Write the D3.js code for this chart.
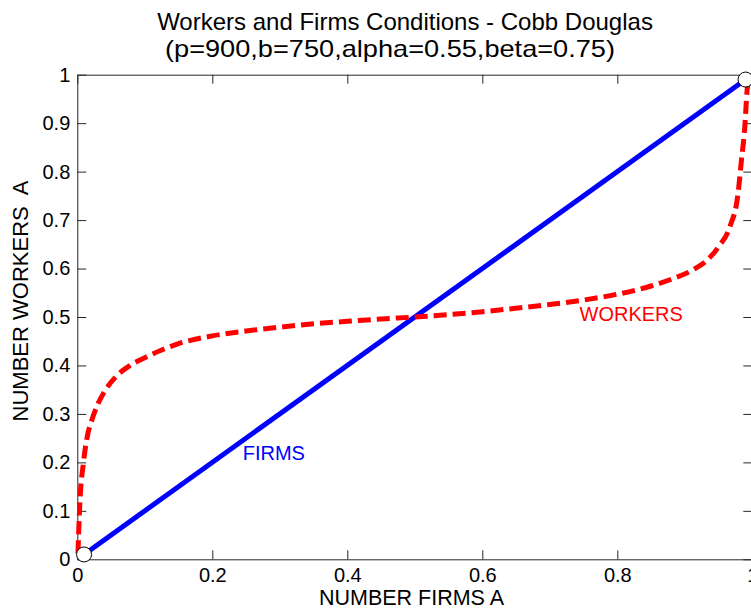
<!DOCTYPE html>
<html>
<head>
<meta charset="utf-8">
<script src="https://cdn.jsdelivr.net/npm/d3@7"></script>
<style>
    body { margin: 0; background: #fff; }
    svg { display: block; font-family: "Liberation Sans", Arial, sans-serif; }
</style>
</head>
<body>
<div id="chart"></div>
<script>
// firms condition (straight line) and workers condition (dashed curve)
const firmsX = [0.01, 0.99];
const firmsY = [0.01, 0.99];

const workersX = [0.001, 0.002, 0.004, 0.009, 0.015, 0.021, 0.031, 0.042, 0.058, 0.078, 0.1,
    0.125, 0.15, 0.2, 0.25, 0.3, 0.35, 0.4, 0.45, 0.5, 0.55, 0.6, 0.65, 0.7, 0.75, 0.8,
    0.85, 0.88, 0.913, 0.932, 0.95, 0.967, 0.979, 0.984, 0.989, 0.992, 0.994];
const workersY = [0.012, 0.054, 0.122, 0.198, 0.255, 0.285, 0.322, 0.35, 0.378, 0.4, 0.416,
    0.432, 0.445, 0.461, 0.471, 0.479, 0.486, 0.491, 0.496, 0.5, 0.505, 0.511, 0.518, 0.526, 0.535, 0.547,
    0.564, 0.578, 0.598, 0.616, 0.645, 0.687, 0.756, 0.825, 0.894, 0.963, 0.99];

// the two end points marked with open circles
const markerX = [0.01, 0.99];
const markerY = [0.01, 0.99];

const xTicks = [0, 0.2, 0.4, 0.6, 0.8, 1];
const yTicks = [0, 0.1, 0.2, 0.3, 0.4, 0.5, 0.6, 0.7, 0.8, 0.9, 1];

const titleLines = ["Workers and Firms Conditions - Cobb Douglas",
    "(p=900,b=750,alpha=0.55,beta=0.75)"];
const xLabel = "NUMBER FIRMS A";
const yLabel = "NUMBER WORKERS  A";

const width = 751, height = 612;
const margin = { left: 77.3, right: -1.3, top: 74.7, bottom: 52.7 };
const plotW = width - margin.left - margin.right;
const plotH = height - margin.top - margin.bottom;

const svg = d3.select("#chart").append("svg")
    .attr("width", width)
    .attr("height", height);

const xScale = d3.scaleLinear().domain([0, 1]).range([margin.left, margin.left + plotW]);
const yScale = d3.scaleLinear().domain([0, 1]).range([margin.top + plotH, margin.top]);

const fmt = d => String(d);
const tickLen = 9;

// axes, ticks pointing inward like matlab
svg.append("g")
    .attr("transform", `translate(0, ${yScale(0)})`)
    .call(d3.axisBottom(xScale).tickValues(xTicks).tickFormat(fmt)
        .tickSizeInner(-tickLen).tickSizeOuter(0).tickPadding(8.5))
    .call(g => g.selectAll("text").attr("font-size", 20));

svg.append("g")
    .attr("transform", `translate(0, ${yScale(1)})`)
    .call(d3.axisTop(xScale).tickValues(xTicks).tickFormat("")
        .tickSizeInner(-tickLen).tickSizeOuter(0));

svg.append("g")
    .attr("transform", `translate(${xScale(0)}, 0)`)
    .call(d3.axisLeft(yScale).tickValues(yTicks).tickFormat(fmt)
        .tickSizeInner(-tickLen).tickSizeOuter(0).tickPadding(7))
    .call(g => g.selectAll("text").attr("font-size", 20));

svg.append("g")
    .attr("transform", `translate(${xScale(1)}, 0)`)
    .call(d3.axisRight(yScale).tickValues(yTicks).tickFormat("")
        .tickSizeInner(-tickLen).tickSizeOuter(0));

svg.selectAll(".domain, .tick line").attr("stroke", "#262626");
svg.selectAll(".tick text").attr("fill", "#000").attr("font-family", "Liberation Sans, Arial, sans-serif");

const line = d3.line()
    .x(d => xScale(d[0]))
    .y(d => yScale(d[1]))
    .curve(d3.curveMonotoneX);

const workers = workersX.map((x, i) => [x, workersY[i]]);
const firms = firmsX.map((x, i) => [x, firmsY[i]]);

svg.append("path")
    .datum(firms)
    .attr("fill", "none")
    .attr("stroke", "#0000ff")
    .attr("stroke-width", 5)
    .attr("d", line);

svg.append("path")
    .datum(workers)
    .attr("fill", "none")
    .attr("stroke", "#ff0000")
    .attr("stroke-width", 5)
    .attr("stroke-dasharray", "13,6")
    .attr("d", line);

svg.selectAll(".marker")
    .data(markerX.map((x, i) => [x, markerY[i]]))
    .enter().append("circle")
    .attr("class", "marker")
    .attr("cx", d => xScale(d[0]))
    .attr("cy", d => yScale(d[1]))
    .attr("r", 7.5)
    .attr("fill", "#fff")
    .attr("stroke", "#000")
    .attr("stroke-width", 1);

// curve labels
svg.append("text")
    .attr("x", xScale(0.245)).attr("y", yScale(0.205))
    .attr("font-size", 20).attr("fill", "#0000ff")
    .text("FIRMS");

svg.append("text")
    .attr("x", xScale(0.744)).attr("y", yScale(0.491))
    .attr("font-size", 20).attr("fill", "#ff0000")
    .text("WORKERS");

// titles and axis labels
svg.append("text")
    .attr("x", 405).attr("y", 30)
    .attr("text-anchor", "middle").attr("font-size", 24)
    .text(titleLines[0]);

svg.append("text")
    .attr("x", 390).attr("y", 57)
    .attr("text-anchor", "middle").attr("font-size", 24)
    .attr("textLength", 450).attr("lengthAdjust", "spacingAndGlyphs")
    .text(titleLines[1]);

svg.append("text")
    .attr("x", 411.5).attr("y", 605)
    .attr("text-anchor", "middle").attr("font-size", 21.5)
    .text(xLabel);

svg.append("text")
    .attr("transform", `translate(28, 301) rotate(-90)`)
    .attr("text-anchor", "middle").attr("font-size", 22)
    .style("white-space", "pre")
    .text(yLabel);
</script>
</body>
</html>
